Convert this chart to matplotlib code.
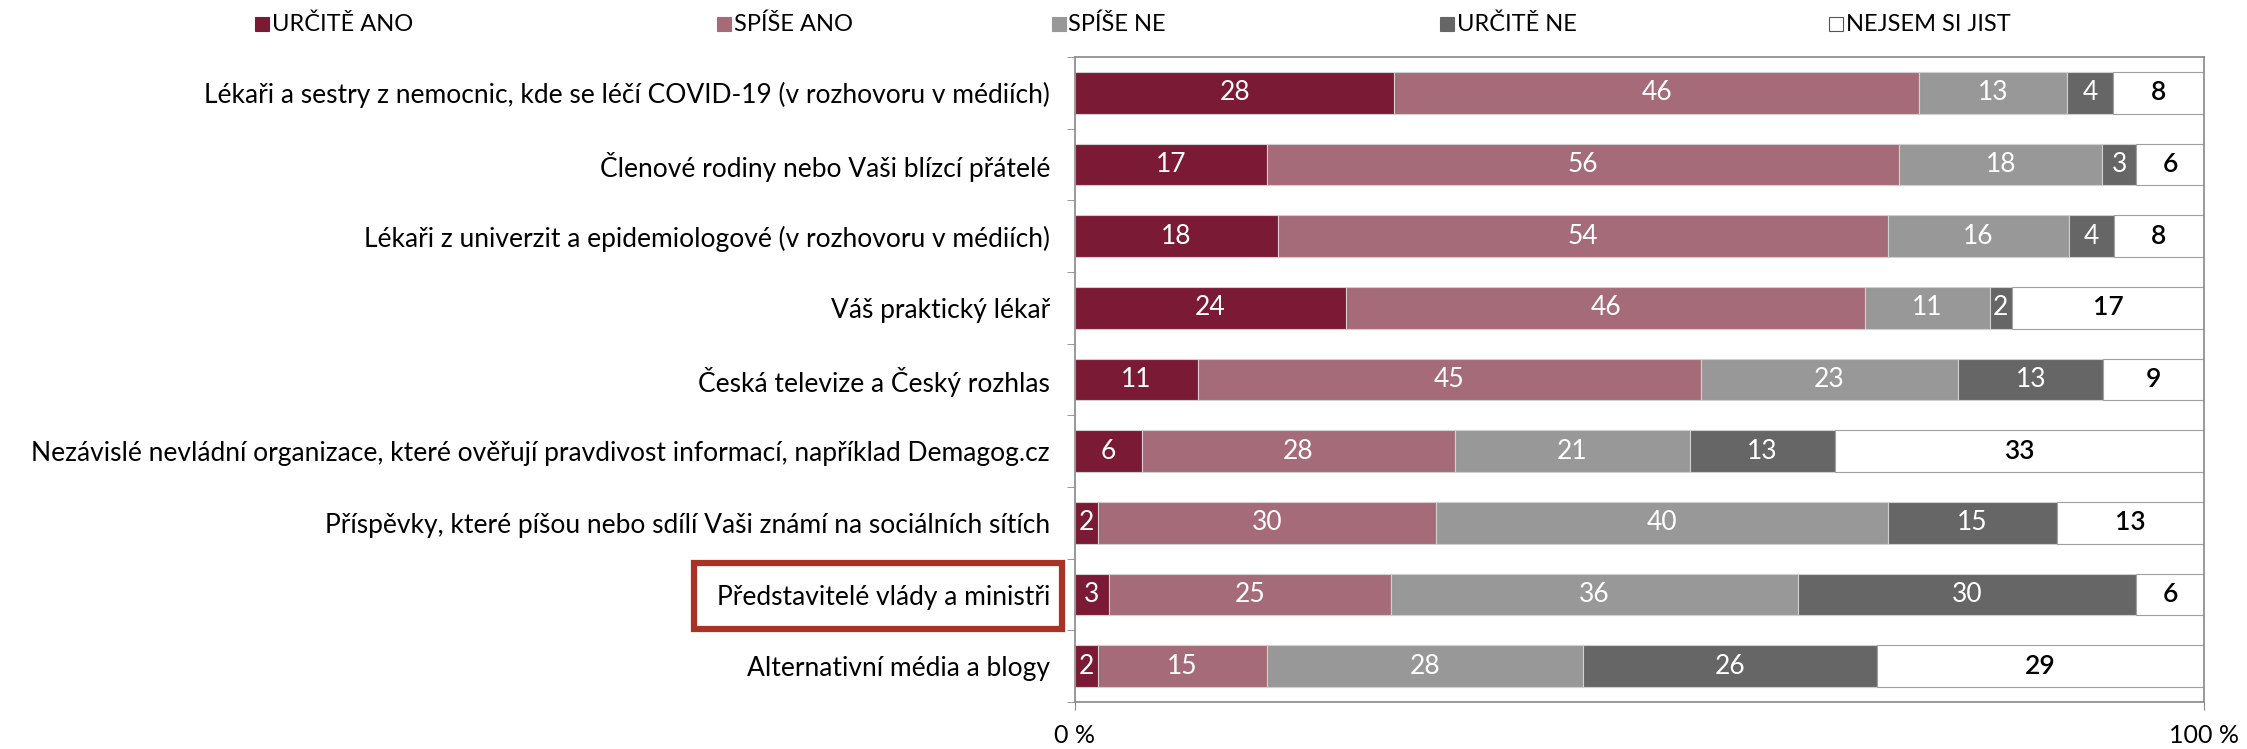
import matplotlib.pyplot as plt
from matplotlib.patches import Rectangle
import numpy as np

plt.rcParams['font.family'] = ['Lato', 'DejaVu Sans']

categories = [
    'Lékaři a sestry z nemocnic, kde se léčí COVID-19 (v rozhovoru v médiích)',
    'Členové rodiny nebo Vaši blízcí přátelé',
    'Lékaři z univerzit a epidemiologové (v rozhovoru v médiích)',
    'Váš praktický lékař',
    'Česká televize a Český rozhlas',
    'Nezávislé nevládní organizace, které ověřují pravdivost informací, například Demagog.cz',
    'Příspěvky, které píšou nebo sdílí Vaši známí na sociálních sítích',
    'Představitelé vlády a ministři',
    'Alternativní média a blogy',
]
series = ['URČITĚ ANO', 'SPÍŠE ANO', 'SPÍŠE NE', 'URČITĚ NE', 'NEJSEM SI JIST']
urcite_ano = [28, 17, 18, 24, 11, 6, 2, 3, 2]
spise_ano = [46, 56, 54, 46, 45, 28, 30, 25, 15]
spise_ne = [13, 18, 16, 11, 23, 21, 40, 36, 28]
urcite_ne = [4, 3, 4, 2, 13, 13, 15, 30, 26]
nejsem = [8, 6, 8, 17, 9, 33, 13, 6, 29]

colors = ['#7b1a34', '#a66b78', '#989898', '#666666', '#ffffff']
text_colors = ['white', 'white', 'white', 'white', 'black']

data = np.array([urcite_ano, spise_ano, spise_ne, urcite_ne, nejsem], dtype=float)
shares = data / data.sum(axis=0) * 100

fig = plt.figure(figsize=(22.47, 7.49), dpi=100)
ax = fig.add_axes([0.4784, 0.0627, 0.5025, 0.8612])

y = np.arange(len(categories))
left = np.zeros(len(categories))
for i, name in enumerate(series):
    ax.barh(y, shares[i], left=left, height=0.58, color=colors[i],
            edgecolor='#d0d0d0' if i < 4 else '#a0a0a0', linewidth=0.8)
    for j in range(len(categories)):
        ax.text(left[j] + shares[i][j] / 2, y[j], str(int(data[i][j])),
                ha='center', va='center', fontsize=19, color=text_colors[i],
                fontweight='semibold' if i == 4 else 'normal')
    left += shares[i]

ax.set_xlim(0, 100)
ax.set_ylim(len(categories) - 0.5, -0.5)
ax.set_yticks(y)
ax.set_yticklabels(categories, fontsize=19)
ax.set_yticks(np.arange(len(categories) + 1) - 0.5, minor=True)
ax.tick_params(axis='y', which='major', length=0, pad=18)
ax.tick_params(axis='y', which='minor', length=6, color='#888888')
ax.set_xticks([0, 100])
ax.set_xticklabels(['0 %', '100 %'], fontsize=18)
ax.tick_params(axis='x', length=6, color='#888888', pad=10)
for s in ax.spines.values():
    s.set_color('#888888')
    s.set_linewidth(1.2)

# manual legend
leg_x = [0.1135, 0.319, 0.468, 0.641, 0.814]
for i, name in enumerate(series):
    fig.patches.append(Rectangle((leg_x[i], 0.958), 0.0062, 0.019, transform=fig.transFigure,
                                 facecolor=colors[i], edgecolor='#555555' if i == 4 else colors[i],
                                 linewidth=0.8))
    fig.text(leg_x[i] + 0.0075, 0.967, name, fontsize=17, va='center', ha='left')

# red highlight box
fig.patches.append(Rectangle((0.3089, 0.1602), 0.1638, 0.0881, transform=fig.transFigure,
                             fill=False, edgecolor='#a93226', linewidth=4.5))

fig.savefig('out.png', dpi=100)
